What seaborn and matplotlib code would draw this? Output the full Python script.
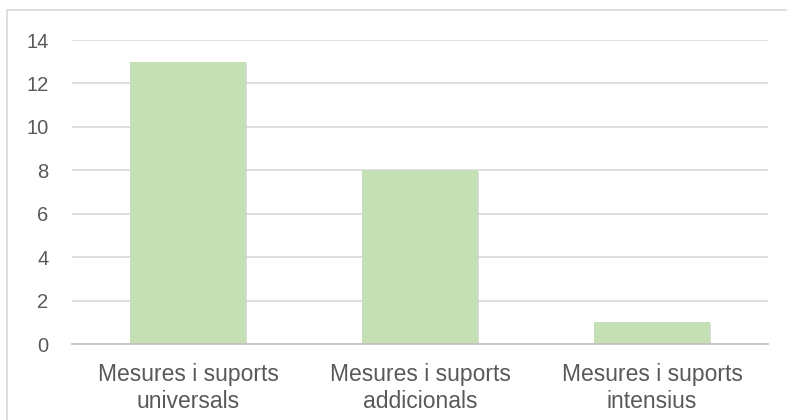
import matplotlib
matplotlib.use("Agg")
import matplotlib.pyplot as plt
import matplotlib.patheffects as pe
import seaborn as sns
import pandas as pd
from matplotlib.patches import Rectangle

categories = ["Mesures i suports\nuniversals", "Mesures i suports\naddicionals", "Mesures i suports\nintensius"]
values = [13, 8, 1]
yticks = [0, 2, 4, 6, 8, 10, 12, 14]

sns.set_theme(style="white")
plt.rcParams['font.family'] = ['Liberation Sans', 'DejaVu Sans']

df = pd.DataFrame({"cat": categories, "val": values})

fig = plt.figure(figsize=(7.87, 4.2), dpi=100)
ax = fig.add_axes([72/787, 1-344/420, (768-72)/787, (344-40)/420])

sns.barplot(data=df, x="cat", y="val", color="#C5E0B4", width=0.5, ax=ax,
            saturation=1, edgecolor="none", zorder=3)
for p in ax.patches:
    p.set_path_effects([pe.SimplePatchShadow(offset=(1, -1), shadow_rgbFace="#A0A0A0", alpha=0.35),
                        pe.Normal()])

ax.set_ylim(0, 14)
ax.set_xlim(-0.5, 2.5)
ax.set_yticks(yticks)
ax.set_yticklabels([str(t) for t in yticks], fontsize=14.5, color="#595959")
ax.tick_params(axis='y', length=0, pad=17)
ax.tick_params(axis='x', length=0, pad=14, labelsize=16.5, labelcolor="#595959")
for lbl in ax.get_xticklabels():
    lbl.set_linespacing(1.2)
ax.set_xlabel("")
ax.set_ylabel("")
ax.grid(axis='y', color="#D9D9D9", linewidth=1.2, zorder=0)
ax.grid(axis='x', visible=False)
for s in ["top", "right", "left"]:
    ax.spines[s].set_visible(False)
ax.spines["bottom"].set_color("#BFBFBF")
ax.spines["bottom"].set_linewidth(1.2)
ax.spines["bottom"].set_zorder(4)

# chart border (top and left visible, right/bottom cropped)
fig.patches.append(Rectangle((7/787, -0.05), 1.1, 1-10/420+0.05, transform=fig.transFigure,
                             fill=False, edgecolor="#D9D9D9", linewidth=1.2))

fig.savefig("out.png", dpi=100)
